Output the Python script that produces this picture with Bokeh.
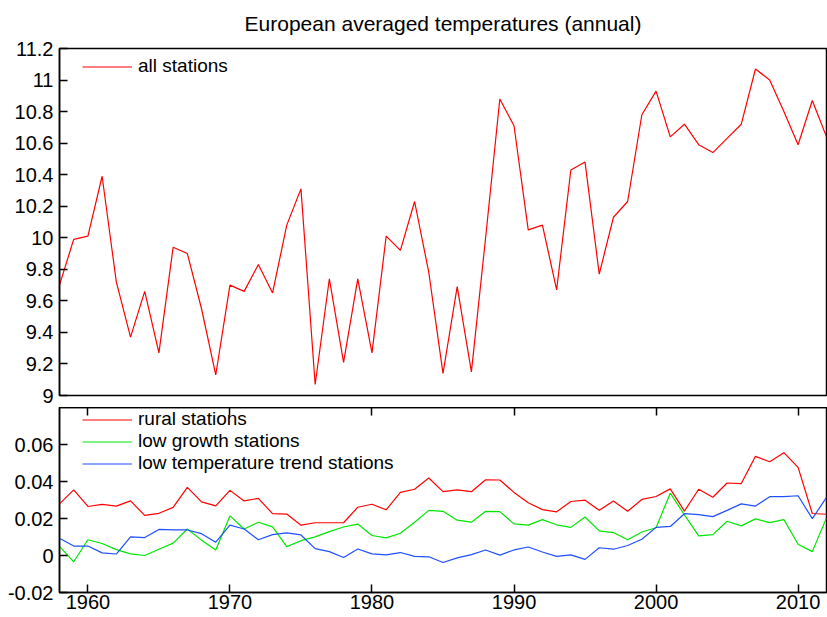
from bokeh.plotting import figure
from bokeh.models import (Range1d, FixedTicker, LinearAxis, CustomJSTickFormatter,
                          Legend, LegendItem)
from bokeh.layouts import column
from bokeh.embed import file_html
from bokeh.resources import INLINE

years = list(range(1958, 2013))

all_stations = [9.70, 9.99, 10.01, 10.39, 9.72, 9.37, 9.66, 9.27, 9.94, 9.90,
                9.55, 9.13, 9.70, 9.66, 9.83, 9.65, 10.08, 10.31, 9.07, 9.74,
                9.21, 9.74, 9.27, 10.01, 9.92, 10.23, 9.78, 9.14, 9.69, 9.15,
                10.00, 10.88, 10.71, 10.05, 10.08, 9.67, 10.43, 10.48, 9.77, 10.13,
                10.23, 10.78, 10.93, 10.64, 10.72, 10.59, 10.54, 10.63, 10.72, 11.07,
                11.00, 10.80, 10.59, 10.87, 10.64]

rural = [0.0279, 0.0355, 0.0265, 0.0276, 0.0267, 0.0295, 0.0217, 0.0228, 0.0260, 0.0368,
         0.0290, 0.0268, 0.0352, 0.0295, 0.0309, 0.0226, 0.0224, 0.0164, 0.0177, 0.0177,
         0.0177, 0.0261, 0.0277, 0.0247, 0.0341, 0.0358, 0.0419, 0.0345, 0.0355, 0.0345,
         0.0409, 0.0408, 0.0341, 0.0285, 0.0248, 0.0236, 0.0292, 0.0299, 0.0244, 0.0295,
         0.0239, 0.0303, 0.0319, 0.0360, 0.0240, 0.0358, 0.0315, 0.0392, 0.0389, 0.0536,
         0.0507, 0.0556, 0.0476, 0.0227, 0.0223]

low_growth = [0.0049, -0.0034, 0.0085, 0.0065, 0.0032, 0.0009, 0.0000, 0.0034, 0.0067, 0.0143,
              0.0083, 0.0030, 0.0214, 0.0143, 0.0180, 0.0155, 0.0048, 0.0080, 0.0101, 0.0129,
              0.0154, 0.0170, 0.0108, 0.0095, 0.0120, 0.0180, 0.0244, 0.0239, 0.0191, 0.0180,
              0.0239, 0.0237, 0.0171, 0.0164, 0.0194, 0.0166, 0.0152, 0.0208, 0.0133, 0.0124,
              0.0085, 0.0127, 0.0150, 0.0337, 0.0220, 0.0106, 0.0113, 0.0185, 0.0160, 0.0198,
              0.0178, 0.0194, 0.0061, 0.0021, 0.0203]

low_trend = [0.0093, 0.0051, 0.0051, 0.0014, 0.0008, 0.0101, 0.0097, 0.0141, 0.0138, 0.0138,
             0.0118, 0.0072, 0.0164, 0.0143, 0.0085, 0.0113, 0.0122, 0.0111, 0.0037, 0.0021,
             -0.0011, 0.0035, 0.0009, 0.0003, 0.0016, -0.0005, -0.0007, -0.0038, -0.0013, 0.0005,
             0.0030, 0.0002, 0.0030, 0.0046, 0.0019, -0.0005, 0.0003, -0.0021, 0.0042, 0.0034,
             0.0054, 0.0088, 0.0152, 0.0157, 0.0226, 0.0221, 0.0210, 0.0244, 0.0279, 0.0267,
             0.0318, 0.0318, 0.0323, 0.0199, 0.0314]

top_ticks = [9.0, 9.2, 9.4, 9.6, 9.8, 10.0, 10.2, 10.4, 10.6, 10.8, 11.0, 11.2]
bottom_ticks = [-0.02, 0.0, 0.02, 0.04, 0.06]
year_ticks = [1960, 1970, 1980, 1990, 2000, 2010]

title_text = "European averaged temperatures (annual)"
labels = ["all stations", "rural stations", "low growth stations",
          "low temperature trend stations"]
colors = ["#ff0000", "#ff0000", "#00e600", "#1f4fff"]

FONT = "Liberation Sans"


def style_axis(ax, font_size="20px"):
    ax.major_tick_in = 8
    ax.major_tick_out = 0
    ax.minor_tick_line_color = None
    ax.axis_line_color = "black"
    ax.axis_line_width = 1.5
    ax.major_tick_line_color = "black"
    ax.major_tick_line_width = 1.5
    ax.major_label_text_font = FONT
    ax.major_label_text_font_size = font_size
    ax.major_label_text_color = "black"


def make_legend(label, renderer, loc):
    lg = Legend(items=[LegendItem(label=label, renderers=[renderer])], location=loc)
    lg.border_line_color = None
    lg.background_fill_alpha = 0
    lg.padding = 0
    lg.margin = 0
    lg.spacing = 0
    lg.glyph_width = 50
    lg.glyph_height = 19
    lg.label_height = 19
    lg.label_standoff = 6
    lg.label_text_font = FONT
    lg.label_text_font_size = "19px"
    lg.label_text_color = "black"
    return lg


top = figure(width=827, height=407, min_border_left=59, min_border_right=1,
             min_border_bottom=12, min_border_top=48,
             x_range=Range1d(1958, 2012), y_range=Range1d(9, 11.2),
             x_axis_location=None, output_backend="svg", toolbar_location=None)
top.title.text = title_text
top.title.align = "center"
top.title.vertical_align = "top"
top.title.text_font = FONT
top.title.text_font_size = "21px"
top.title.text_font_style = "normal"
top.title.text_color = "black"
top.title.standoff = 23
top.grid.visible = False
top.outline_line_color = "black"
top.outline_line_width = 1.5
top.yaxis.ticker = FixedTicker(ticks=top_ticks)
top.yaxis.formatter = CustomJSTickFormatter(code="""
  const s = tick.toFixed(1);
  return s.endsWith('.0') ? s.slice(0, -2) : s;
""")
style_axis(top.yaxis[0])
top.yaxis[0].major_label_standoff = 6
r_all = top.line(years, all_stations, line_color=colors[0], line_width=1.2)
top.add_layout(make_legend(labels[0], r_all, (23, 318)))

bot = figure(width=827, height=210, min_border_left=59, min_border_right=1,
             min_border_top=0, min_border_bottom=25,
             x_range=top.x_range, y_range=Range1d(-0.02, 0.08),
             output_backend="svg", toolbar_location=None)
bot.grid.visible = False
bot.outline_line_color = "black"
bot.outline_line_width = 1.5
bot.yaxis.ticker = FixedTicker(ticks=bottom_ticks)
bot.yaxis.formatter = CustomJSTickFormatter(code="""
  if (Math.abs(tick) < 1e-9) return '0';
  return tick.toFixed(2);
""")
bot.xaxis.ticker = FixedTicker(ticks=year_ticks)
style_axis(bot.yaxis[0])
style_axis(bot.xaxis[0])
bot.yaxis[0].major_label_standoff = 6
bot.xaxis[0].major_label_standoff = 2
top_ax = LinearAxis(ticker=FixedTicker(ticks=year_ticks),
                    formatter=CustomJSTickFormatter(code="return '';"))
style_axis(top_ax)
top_ax.major_label_standoff = 0
bot.add_layout(top_ax, "above")

r_rural = bot.line(years, rural, line_color=colors[1], line_width=1.2)
r_growth = bot.line(years, low_growth, line_color=colors[2], line_width=1.2)
r_trend = bot.line(years, low_trend, line_color=colors[3], line_width=1.2)
bot.add_layout(make_legend(labels[1], r_rural, (23, 162)))
bot.add_layout(make_legend(labels[2], r_growth, (23, 140)))
bot.add_layout(make_legend(labels[3], r_trend, (23, 118)))

layout = column(top, bot, spacing=0)
open("out.html", "w").write(file_html(layout, INLINE))
